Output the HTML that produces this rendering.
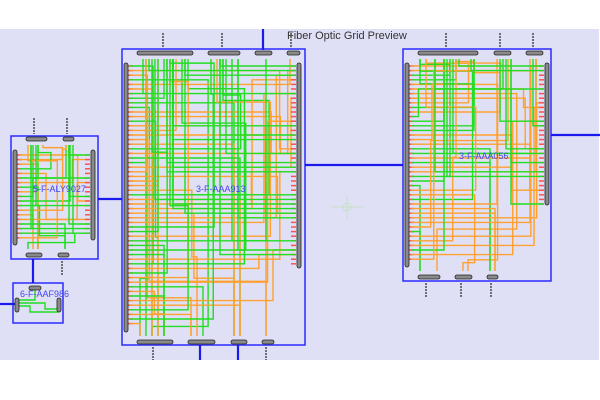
<!DOCTYPE html>
<html><head><meta charset="utf-8"><style>
html,body{margin:0;padding:0;background:#fff;}
body{width:600px;height:400px;overflow:hidden;position:relative;font-family:"Liberation Sans",sans-serif;}
svg{position:absolute;left:0;top:0;}
</style></head><body>
<svg id="s" width="600" height="400" xmlns="http://www.w3.org/2000/svg">
<rect x="0" y="29" width="599" height="331" fill="#dfe0f6"/>
<g id="wires" fill="none" stroke-width="1.4"></g>
<g fill="none" stroke="#2a2aff" stroke-width="1.5">
<rect x="122" y="49" width="183" height="296"/>
<rect x="11" y="136" width="87" height="123"/>
<rect x="13" y="283" width="50" height="40"/>
<rect x="403" y="49" width="148" height="232"/>
</g>
<g stroke="#1a1aee" stroke-width="2.2">
<line x1="98" y1="199" x2="122" y2="199"/>
<line x1="305" y1="165" x2="403" y2="165"/>
<line x1="551" y1="135" x2="600" y2="135"/>
<line x1="263" y1="29" x2="263" y2="50"/>
<line x1="200" y1="345" x2="200" y2="360"/>
<line x1="238" y1="345" x2="238" y2="360"/>
<line x1="33" y1="259" x2="33" y2="283"/>
<line x1="0" y1="304" x2="15" y2="304"/>
</g>
<g stroke="#222" stroke-width="1.2" stroke-dasharray="2,1">
<line x1="163" y1="33" x2="163" y2="48"/><line x1="222" y1="33" x2="222" y2="48"/><line x1="291" y1="33" x2="291" y2="48"/>
<line x1="153" y1="347" x2="153" y2="360"/><line x1="266" y1="347" x2="266" y2="360"/>
<line x1="34" y1="118" x2="34" y2="134"/><line x1="67" y1="118" x2="67" y2="134"/><line x1="62" y1="261" x2="62" y2="276"/>
<line x1="446" y1="33" x2="446" y2="47"/><line x1="500" y1="33" x2="500" y2="47"/><line x1="533" y1="33" x2="533" y2="47"/>
<line x1="426" y1="283" x2="426" y2="298"/><line x1="461" y1="283" x2="461" y2="298"/><line x1="491" y1="283" x2="491" y2="298"/>
</g>
<g id="bars" fill="#8a8a8a" stroke="#222" stroke-width="0.8"></g>
<g fill="#4444ee" font-size="9">
<text x="33" y="192">5-F-ALY9027</text>
<text x="196" y="192">3-F-AAA913</text>
<text x="459" y="159">3-F-AAA056</text>
<text x="20" y="297">6-F-AAF986</text>
</g>
<text x="287" y="39" font-size="11" fill="#333">Fiber Optic Grid Preview</text>
<g stroke="#c8e0c8" fill="none"><circle cx="347" cy="207" r="4"/><line x1="331" y1="207" x2="363" y2="207"/><line x1="347" y1="195" x2="347" y2="219"/></g>
</svg>
<script>
var W=document.getElementById('wires'),B=document.getElementById('bars'),NS='http://www.w3.org/2000/svg';
var seed=7;function r(){seed=(seed*9301+49297)%233280;return seed/233280;}
function el(p,t,a){var e=document.createElementNS(NS,t);for(var k in a)e.setAttribute(k,a[k]);p.appendChild(e);return e;}
function pl(pts,c){el(W,'polyline',{points:pts.join(' '),stroke:c});}
var G='#22dd22',O='#ffa030';
function hb(x1,x2,y){el(B,'rect',{x:x1,y:y-2,width:x2-x1,height:4,rx:2});}
function vb(x,y1,y2){el(B,'rect',{x:x-2,y:y1,width:4,height:y2-y1,rx:2});}
function box(L,R,T,Bt,tops,bots,rows,rrows){
 var w=R-L;
 for(var i=0;i<rows.length;i++){var y=rows[i];var c=r()<0.55?G:O;
  el(W,'line',{x1:L+2,y1:y,x2:L+7,y2:y,stroke:'#ff5050','stroke-width':1.5});
  var k=r(),xm=L+10+r()*(w-25);
  if(k<0.4&&tops.length){var x=tops[Math.floor(r()*tops.length)];var yj=T+8+r()*(y-T-10)*0.6;
   if(r()<0.5)pl([L+4,y,x,y,x,T+6],c);else pl([L+4,y,xm,y,xm,yj,x,yj,x,T+6],c);}
  else if(k<0.75&&bots.length){var x=bots[Math.floor(r()*bots.length)];var yj=Bt-8-r()*(Bt-y-10)*0.6;
   if(r()<0.5)pl([L+4,y,x,y,x,Bt-6],c);else pl([L+4,y,xm,y,xm,yj,x,yj,x,Bt-6],c);}
  else if(rrows.length){var y2=rrows[Math.floor(r()*rrows.length)];var xm2=R-8-r()*40;pl([L+4,y,xm2,y,xm2,y2,R-4,y2],O);}
 }
 for(var j=0;j<rrows.length;j++){el(W,'line',{x1:R-8,y1:rrows[j],x2:R-3,y2:rrows[j],stroke:'#ff5050','stroke-width':1.5});
  if(r()<0.4&&tops.length){var x=tops[Math.floor(r()*tops.length)]+3;pl([R-4,rrows[j],x,rrows[j],x,T+6],G);}}
}
function rng(a,b,s){var o=[];for(var y=a;y<=b;y+=s)o.push(Math.round(y*10)/10);return o;}
box(126,299,53,342,[140,146,152,158,164,170,176,182,188,211,217,223,229,235,258,266,290],[140,146,152,158,164,191,197,203,209,234,240,266],rng(66,328,4.6),rng(66,265,4.6));
hb(137,193,53);hb(208,240,53);hb(255,272,53);hb(287,300,53);
hb(137,173,342);hb(188,215,342);hb(231,247,342);hb(262,274,342);
vb(126,63,332);vb(299,63,268);
box(407,547,53,277,[420,426,432,438,444,450,456,462,468,474,497,503,508,530,536],[420,426,432,437,458,463,468,490,495],rng(66,263,4.6),rng(66,205,4.6));
hb(418,478,53);hb(494,511,53);hb(526,543,53);
hb(418,440,277);hb(455,472,277);hb(487,498,277);
vb(407,63,267);vb(547,63,205);
box(15,93,139,255,[28,33,38,43,66,70],[28,33,38,61,65],rng(155,241,4.6),rng(155,236,4.6));
hb(26,47,139);hb(63,74,139);hb(26,42,255);hb(58,69,255);
vb(15,150,245);vb(93,150,240);
pl([19,300,35,300,35,289],G);pl([19,306,30,306,30,312,58,312,58,306],G);pl([19,303,45,303,45,309,57,309],G);
vb(17,298,312);vb(59,298,312);hb(29,41,288);
</script>
</body></html>
